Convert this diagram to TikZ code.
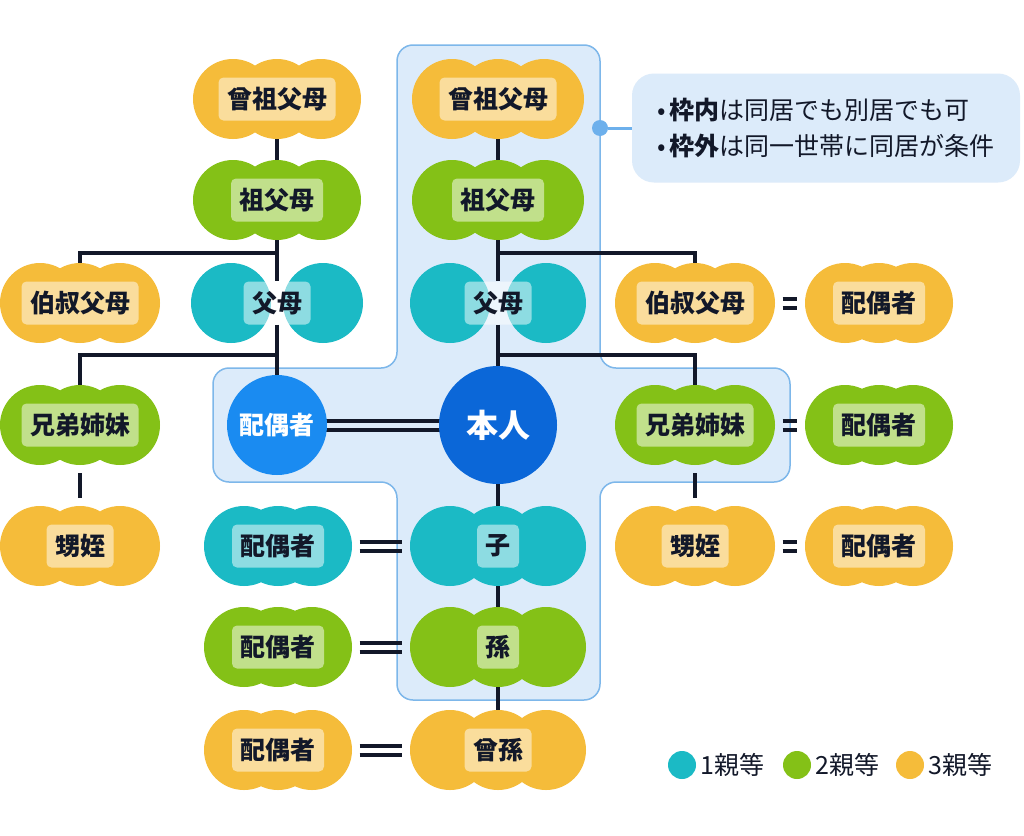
\documentclass[tikz,border=0pt]{standalone}
\usepackage{fontspec}
\setmainfont{Noto Sans CJK JP}
\usetikzlibrary{positioning,calc}

\definecolor{teal}{HTML}{1BBAC5}
\definecolor{grn}{HTML}{84C117}
\definecolor{yel}{HTML}{F5BC3A}
\definecolor{blueme}{HTML}{0B67D8}
\definecolor{bluesp}{HTML}{1A8BF1}
\definecolor{framefill}{HTML}{DCEBFA}
\definecolor{frameline}{HTML}{7DB7EA}
\definecolor{ink}{HTML}{121829}
\definecolor{pinc}{HTML}{6DB0EC}

\pgfdeclarelayer{frame}
\pgfdeclarelayer{wires}
\pgfsetlayers{frame,wires,main}

\tikzset{
  link/.style={draw=ink, line width=3.5pt},
  eq/.style={draw=ink, line width=4pt, shorten <=7.5pt, shorten >=7.5pt},
  cloud/.style 2 args={minimum width=2*#1+80pt, minimum height=80pt, inner sep=0pt,
    path picture={\fill[#2] ([xshift=-#1]path picture bounding box.center) circle (40pt)
      (path picture bounding box.center) circle (40pt)
      ([xshift=#1]path picture bounding box.center) circle (40pt);}},
  pair/.style 2 args={minimum width=2*#1+80pt, minimum height=80pt, inner sep=0pt,
    path picture={\fill[#2] ([xshift=-#1]path picture bounding box.center) circle (40pt)
      ([xshift=#1]path picture bounding box.center) circle (40pt);}},
  tag/.style={fill=white, fill opacity=0.5, text opacity=1, text=ink, rounded corners=5pt,
    inner xsep=8.5pt, inner ysep=0pt, minimum height=43pt, font=\bfseries\fontsize{25}{25}\selectfont},
  disc/.style={circle, inner sep=0pt, text=white, font=\bfseries\fontsize{25}{25}\selectfont},
  note/.style={fill=framefill, rounded corners=22pt, minimum width=388pt, minimum height=109pt,
    align=left, text=ink, font=\fontsize{25}{36}\selectfont},
  pin/.style={circle, fill=pinc, minimum size=16pt, inner sep=0pt},
  key/.style={circle, minimum size=28pt, inner sep=0pt},
  keytext/.style={text=ink, inner sep=0pt, font=\fontsize{25}{25}\selectfont},
}

\begin{document}
\begin{tikzpicture}[x=1pt, y=-1pt]
  \useasboundingbox (0,0) rectangle (1024,835);

  \begin{pgfonlayer}{frame}
    \fill[white] (0,0) rectangle (1024,835);
    \filldraw[fill=framefill, draw=frameline, line width=1.5pt, rounded corners=16pt]
      (498,45) -- (600,45) -- (600,368) -- (790,368) -- (790,482) -- (600,482)
      -- (600,700) -- (397,700) -- (397,482) -- (213,482) -- (213,368)
      -- (397,368) -- (397,45) -- cycle;
  \end{pgfonlayer}

  \node[cloud={44pt}{yel}] (ggpL) at (277,99) {};
  \node[tag] (ggpLt) at (ggpL) {曾祖父母};
  \node[cloud={46pt}{yel}] (ggpC) at (498,99) {};
  \node[tag] (ggpCt) at (ggpC) {曾祖父母};

  \node[cloud={44pt}{grn}] (gpL) at (277,200) {};
  \node[tag] (gpLt) at (gpL) {祖父母};
  \node[cloud={46pt}{grn}] (gpC) at (498,200) {};
  \node[tag] (gpCt) at (gpC) {祖父母};

  \node[cloud={40pt}{yel}] (uncL) at (80,303) {};
  \node[tag] (uncLt) at (uncL) {伯叔父母};
  \node[pair={46pt}{teal}] (pL) at (277,303) {};
  \node[tag] (pLt) at (pL) {父母};
  \node[pair={48pt}{teal}] (pC) at (498,303) {};
  \node[tag] (pCt) at (pC) {父母};
  \node[cloud={40pt}{yel}] (uncR) at (695,303) {};
  \node[tag] (uncRt) at (uncR) {伯叔父母};
  \node[cloud={34pt}{yel}] (spU) at (879,303) {};
  \node[tag] (spUt) at (spU) {配偶者};

  \node[cloud={40pt}{grn}] (sibL) at (80,425) {};
  \node[tag] (sibLt) at (sibL) {兄弟姉妹};
  \node[disc, fill=bluesp, minimum size=100pt] (spB) at (277,425) {配偶者};
  \node[disc, fill=blueme, minimum size=118pt, font=\bfseries\fontsize{32}{32}\selectfont] (me) at (498,425) {本人};
  \node[cloud={40pt}{grn}] (sibR) at (695,425) {};
  \node[tag] (sibRt) at (sibR) {兄弟姉妹};
  \node[cloud={34pt}{grn}] (spS) at (879,425) {};
  \node[tag] (spSt) at (spS) {配偶者};

  \node[cloud={40pt}{yel}] (nepL) at (80,546) {};
  \node[tag] (nepLt) at (nepL) {甥姪};
  \node[cloud={34pt}{teal}] (spK) at (278,546) {};
  \node[tag] (spKt) at (spK) {配偶者};
  \node[cloud={48pt}{teal}] (kid) at (498,546) {};
  \node[tag] (kidt) at (kid) {子};
  \node[cloud={40pt}{yel}] (nepR) at (695,546) {};
  \node[tag] (nepRt) at (nepR) {甥姪};
  \node[cloud={34pt}{yel}] (spN) at (879,546) {};
  \node[tag] (spNt) at (spN) {配偶者};

  \node[cloud={34pt}{grn}] (spG) at (278,647) {};
  \node[tag] (spGt) at (spG) {配偶者};
  \node[cloud={48pt}{grn}] (gkid) at (498,647) {};
  \node[tag] (gkidt) at (gkid) {孫};

  \node[cloud={34pt}{yel}] (spGG) at (278,750) {};
  \node[tag] (spGGt) at (spGG) {配偶者};
  \node[cloud={48pt}{yel}] (ggkid) at (498,750) {};
  \node[tag] (ggkidt) at (ggkid) {曾孫};

  \coordinate (jL1) at (277,253);
  \coordinate (jL2) at (277,355);
  \coordinate (jC1) at (498,253);
  \coordinate (jC2) at (498,355);

  \begin{pgfonlayer}{wires}
    \draw[link] (ggpL) -- (gpL);
    \draw[link] (gpL) -- (pLt);
    \draw[link] (jL1) -| (uncL);
    \draw[link] (pLt) -- (spB);
    \draw[link] (jL2) -| (sibL);
    \draw[link, shorten <=8pt, shorten >=8pt] (sibL) -- (nepL);

    \draw[link] (ggpC) -- (gpC);
    \draw[link] (gpC) -- (pCt);
    \draw[link] (jC1) -| (uncR);
    \draw[link] (pCt) -- (me);
    \draw[link] (jC2) -| (sibR);
    \draw[link, shorten <=8pt, shorten >=8pt] (sibR) -- (nepR);
    \draw[link] (me) -- (kid);
    \draw[link] (kid) -- (gkid);
    \draw[link] (gkid) -- (ggkid);

    \foreach \s in {4.5,-4.5} {
      \draw[eq, shorten <=-2pt, shorten >=-2pt] ([yshift=\s pt]spB.east) -- ([yshift=\s pt]me.west);
      \draw[eq] ([yshift=\s pt]spK.east) -- ([yshift=\s pt]kid.west);
      \draw[eq] ([yshift=\s pt]spG.east) -- ([yshift=\s pt]gkid.west);
      \draw[eq] ([yshift=\s pt]spGG.east) -- ([yshift=\s pt]ggkid.west);
      \draw[eq] ([yshift=\s pt]uncR.east) -- ([yshift=\s pt]spU.west);
      \draw[eq] ([yshift=\s pt]sibR.east) -- ([yshift=\s pt]spS.west);
      \draw[eq] ([yshift=\s pt]nepR.east) -- ([yshift=\s pt]spN.west);
    }
  \end{pgfonlayer}

  \node[note] (note) at (826,128) {•\,\textbf{枠内}は同居でも別居でも可\\•\,\textbf{枠外}は同一世帯に同居が条件};
  \node[pin] (pinL) at (600,128) {};
  \draw[pinc, line width=3pt] (pinL) -- (note);

  \node[key, fill=teal] (k1) at (682,765) {};
  \node[keytext, right=4pt of k1] (k1t) {1親等};
  \node[key, fill=grn] (k2) at (797,765) {};
  \node[keytext, right=4pt of k2] (k2t) {2親等};
  \node[key, fill=yel] (k3) at (910,765) {};
  \node[keytext, right=4pt of k3] (k3t) {3親等};
\end{tikzpicture}
\end{document}
